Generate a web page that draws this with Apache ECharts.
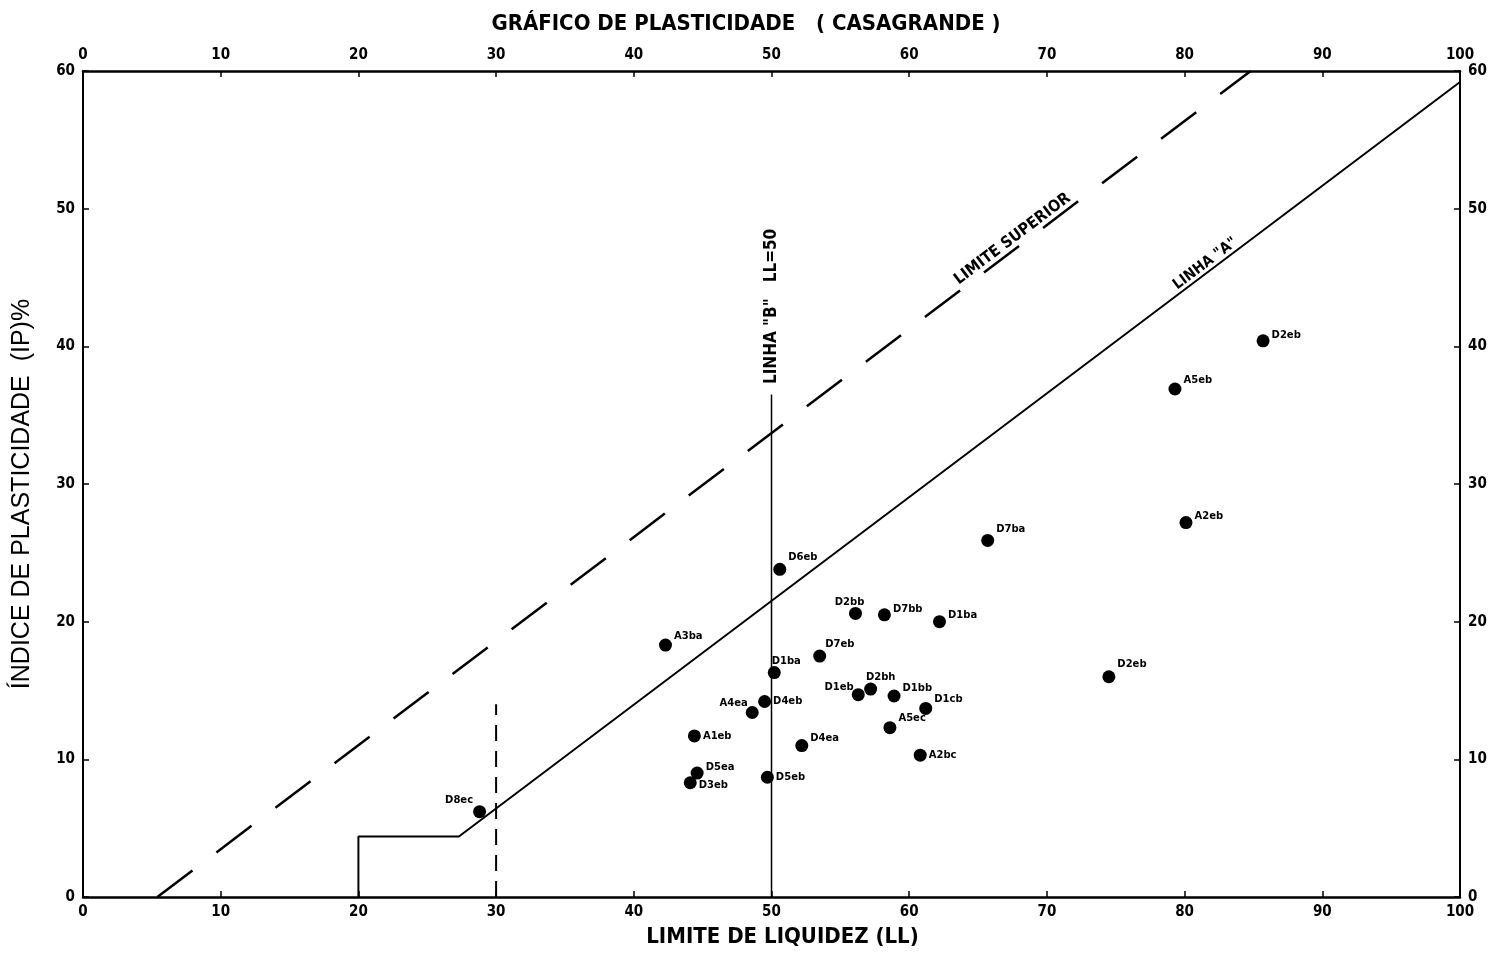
<!DOCTYPE html>
<html><head><meta charset="utf-8">
<script src="https://cdn.jsdelivr.net/npm/echarts@6/dist/echarts.min.js"></script>
<style>html,body{margin:0;padding:0;background:#fff}#c{width:1492px;height:953px}</style>
</head><body><div id="c"></div>
<script>
// ---- data ----
const sampleNames = ['D8ec','D5ea','D3eb','A1eb','A4ea','D4eb','D1ba','D5eb','D4ea','D6eb','A3ba','D7eb','D2bb','D7bb','D1ba','D1eb','D2bh','D1bb','D1cb','A5ec','A2bc','D7ba','D2eb','A5eb','A2eb','D2eb'];
const llValues    = [28.8, 44.6, 44.1, 44.4, 48.6, 49.5, 50.2, 49.7, 52.2, 50.6, 42.3, 53.5, 56.1, 58.2, 62.2, 56.3, 57.2, 58.9, 61.2, 58.6, 60.8, 65.7, 85.7, 79.3, 80.1, 74.5];
const ipValues    = [6.2, 9.0, 8.3, 11.7, 13.4, 14.2, 16.3, 8.7, 11.0, 23.8, 18.3, 17.5, 20.6, 20.5, 20.0, 14.7, 15.1, 14.6, 13.7, 12.3, 10.3, 25.9, 40.4, 36.9, 27.2, 16.0];
const xTickValues = [0,10,20,30,40,50,60,70,80,90,100];
const yTickValues = [0,10,20,30,40,50,60];
const lineA       = [[20,0],[20,4.4],[27.3,4.4],[100,59.2]];
const upperLimit  = [[5.4,0],[84.8,60]];
const lineB       = [[50,0],[50,36.5]];
const ll30        = [[30,0],[30,14]];
const annotationTexts = ['LINHA "B"   LL=50', 'LIMITE SUPERIOR', 'LINHA "A"'];

// ---- layout / style (not data) ----
const annotationPos = [[50,42.9],[67.5,47.8],[81.5,46.0]];
const annotationRot = [90, 37, 37];
const annotationSize = [17, 16, 15];
const labelPlace = [
  ['left',[2,-11]],['right',[0,-6]],['right',[0,3]],['right',[0,0]],['left',[4,-9]],
  ['right',[0,0]],['top',[12,2]],['right',[0,0]],['right',[0,-7]],['right',[0,-12]],
  ['right',[0,-9]],['right',[-3,-12]],['top',[-6,2]],['right',[0,-5]],['right',[0,-6]],
  ['left',[4,-7]],['top',[10,2]],['right',[0,-8]],['right',[0,-9]],['right',[0,-9]],
  ['right',[0,0]],['right',[0,-11]],['right',[0,-5]],['right',[0,-9]],['right',[0,-6]],['right',[0,-12]]
];

const ink = '#000';
const tickFont = {fontFamily:'DejaVu Sans Condensed', fontWeight:'bold', fontSize:15, color:ink};

const scatterData = sampleNames.map((n,i)=>({
  value:[llValues[i], ipValues[i]], name:n,
  label:{position:labelPlace[i][0], offset:labelPlace[i][1]}
}));

function xAx(pos){
  return {type:'value', position:pos, min:0, max:100, interval:10,
    axisLine:{onZero:false, lineStyle:{color:ink,width:2.5}},
    axisTick:{inside:true,length:6,lineStyle:{color:ink,width:1.5}},
    axisLabel:Object.assign({margin:8, formatter:v=>xTickValues.includes(v)?String(v):''}, tickFont),
    splitLine:{show:false}};
}
function yAx(pos){
  return {type:'value', position:pos, min:0, max:60, interval:10,
    axisLine:{onZero:false, lineStyle:{color:ink,width:2}},
    axisTick:{inside:true,length:6,lineStyle:{color:ink,width:1.5}},
    axisLabel:Object.assign({margin:8, formatter:v=>yTickValues.includes(v)?String(v):''}, tickFont),
    splitLine:{show:false}};
}

const xb = xAx('bottom');
xb.name = 'LIMITE DE LIQUIDEZ (LL)'; xb.nameLocation='middle'; xb.nameGap=29;
xb.nameTextStyle = {fontFamily:'DejaVu Sans Condensed', fontWeight:'bold', fontSize:22, color:ink, padding:[0,0,0,22]};
const yl = yAx('left');
yl.name = 'ÍNDICE DE PLASTICIDADE  (IP)%'; yl.nameLocation='middle'; yl.nameGap=48; yl.nameRotate=90;
yl.nameTextStyle = {fontFamily:'Liberation Sans', fontSize:25, color:ink, padding:[0,20,0,0]};

const chart = echarts.init(document.getElementById('c'), null, {renderer:'canvas'});
chart.setOption({
  animation:false,
  backgroundColor:'#fff',
  title:{text:'GRÁFICO DE PLASTICIDADE   ( CASAGRANDE )', left:'center', top:8,
    textStyle:{fontFamily:'DejaVu Sans Condensed', fontWeight:'bold', fontSize:22, color:ink}},
  grid:{left:83, right:32, top:71, bottom:55},
  xAxis:[xb, xAx('top')],
  yAxis:[yl, yAx('right')],
  series:[
    {type:'line', data:lineA, showSymbol:false, symbol:'none', lineStyle:{color:ink,width:2}},
    {type:'line', data:upperLimit, showSymbol:false, symbol:'none', lineStyle:{color:ink,width:2.5,type:[44,30]}},
    {type:'line', data:lineB, showSymbol:false, symbol:'none', lineStyle:{color:ink,width:1.5}},
    {type:'line', data:ll30, showSymbol:false, symbol:'none', lineStyle:{color:ink,width:2,type:[16,10]}},
    {type:'scatter', data:scatterData, symbol:'circle', symbolSize:13,
      itemStyle:{color:ink, opacity:1},
      label:{show:true, distance:2, formatter:p=>p.name, fontFamily:'DejaVu Sans', fontWeight:'bold', fontSize:10, color:ink}},
    {type:'scatter', symbolSize:0, silent:true, itemStyle:{color:ink, opacity:1},
      data:annotationTexts.map((t,i)=>({value:annotationPos[i], name:t,
        label:{rotate:annotationRot[i], fontSize:annotationSize[i]}})),
      label:{show:true, position:'inside', formatter:p=>p.name, align:'center', verticalAlign:'middle',
        fontFamily:'DejaVu Sans Condensed', fontWeight:'bold', fontSize:15, color:ink}}
  ]
});
</script></body></html>
